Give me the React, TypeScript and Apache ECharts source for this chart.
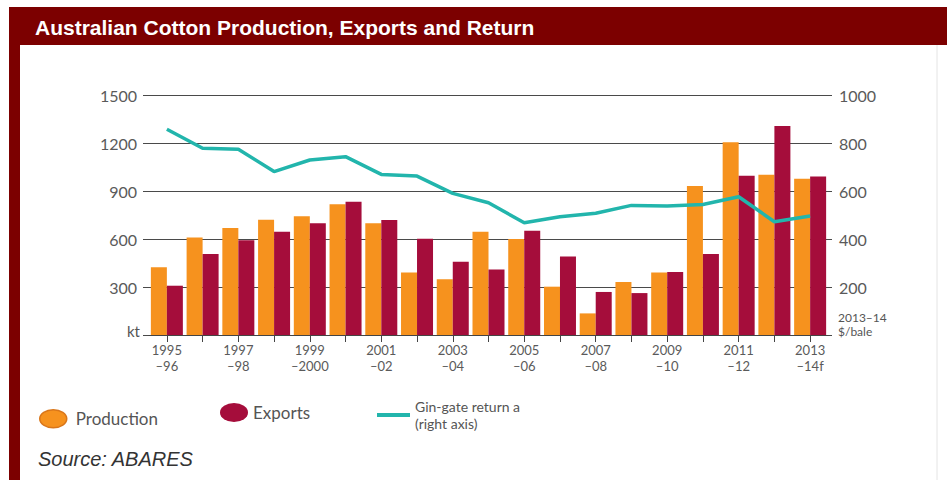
import React, { useEffect, useRef } from "react";
import * as echarts from "echarts";

const categories = [
  "1995–96", "1996–97", "1997–98", "1998–99", "1999–2000", "2000–01", "2001–02",
  "2002–03", "2003–04", "2004–05", "2005–06", "2006–07", "2007–08", "2008–09",
  "2009–10", "2010–11", "2011–12", "2012–13", "2013–14f",
];
const production = [423, 610, 669, 721, 742, 817, 698, 390, 348, 646, 600, 302, 135, 331, 390, 931, 1204, 1002, 977];
const exportsKt = [308, 506, 592, 646, 698, 833, 719, 602, 458, 410, 652, 490, 269, 262, 394, 506, 996, 1306, 990];
const ginGateReturn = [857, 778, 774, 681, 729, 743, 669, 662, 590, 551, 468, 493, 507, 540, 537, 544, 576, 472, 496];
const leftTicks = { min: 0, max: 1500, interval: 300 };
const rightTicks = { min: 0, max: 1000, interval: 200 };

const ORANGE = "#F6921E";
const RED = "#A50D3B";
const TEAL = "#22B5AC";
const BORDER = "#7C0000";
const FONT = "Lato";
const ELLIPSE = "path://M50,0 A50,50 0 1,1 50,100 A50,50 0 1,1 50,0 Z";

export default function App() {
  const ref = useRef<HTMLDivElement>(null);
  useEffect(() => {
    if (!ref.current) return;
    const chart = echarts.init(ref.current, undefined, { renderer: "svg" });
    const gridTop = 95;
    const gridBottom = 145;
    chart.setOption({
      animation: false,
      backgroundColor: "#ffffff",
      grid: [
        { left: 143, right: 115, top: gridTop, bottom: gridBottom },
        { left: 149, right: 119, top: gridTop, bottom: gridBottom },
      ],
      xAxis: [
        { gridIndex: 0, type: "value", show: false, min: 0, max: 1 },
        {
          gridIndex: 1,
          type: "category",
          data: categories,
          boundaryGap: true,
          axisLine: { show: true, lineStyle: { color: "#444", width: 1 } },
          axisTick: { show: true, alignWithLabel: true, interval: 0, length: 7, lineStyle: { color: "#444" } },
          axisLabel: {
            interval: 1,
            margin: 7,
            fontFamily: FONT,
            fontSize: 13,
            lineHeight: 15.8,
            color: "#5a5a5a",
            formatter: (v: string) => v.replace("–", "\n–"),
          },
        },
      ],
      yAxis: [
        {
          gridIndex: 0,
          type: "value",
          position: "left",
          ...leftTicks,
          axisLine: { show: false },
          axisTick: { show: false },
          splitLine: { show: true, lineStyle: { color: "#4a4a4a", width: 1 } },
          axisLabel: {
            margin: 6,
            fontFamily: FONT,
            fontSize: 16,
            color: "#5a5a5a",
            formatter: (v: number) => (v === 0 ? "" : String(v)),
          },
        },
        {
          gridIndex: 0,
          type: "value",
          position: "right",
          ...rightTicks,
          axisLine: { show: false },
          axisTick: { show: false },
          splitLine: { show: false },
          axisLabel: {
            margin: 7,
            fontFamily: FONT,
            fontSize: 16,
            color: "#5a5a5a",
            formatter: (v: number) => (v === 0 ? "" : String(v)),
          },
        },
        { gridIndex: 1, type: "value", ...leftTicks, show: false, splitLine: { show: false } },
        { gridIndex: 1, type: "value", ...rightTicks, show: false, splitLine: { show: false } },
      ],
      legend: [
        {
          data: [{ name: "Production", icon: ELLIPSE, itemStyle: { borderColor: "#D9761A", borderWidth: 1.5 } }],
          left: 39,
          top: 409,
          padding: 0,
          itemWidth: 27,
          itemHeight: 18,
          symbolKeepAspect: false,
          textStyle: { fontFamily: FONT, fontSize: 17, color: "#555", padding: [0, 0, 0, 4] },
        },
        {
          data: [{ name: "Exports", icon: ELLIPSE }],
          left: 220,
          top: 403,
          padding: 0,
          itemWidth: 28,
          itemHeight: 19,
          symbolKeepAspect: false,
          textStyle: { fontFamily: FONT, fontSize: 17, color: "#555" },
        },
        {
          data: [{ name: "Gin-gate return a", icon: "rect" }],
          left: 377,
          top: 398,
          padding: 0,
          itemWidth: 33,
          itemHeight: 4,
          symbolKeepAspect: false,
          formatter: () => "Gin-gate return a\n(right axis)",
          textStyle: { fontFamily: FONT, fontSize: 14, lineHeight: 17, color: "#555" },
        },
      ],
      series: [
        {
          name: "Production",
          type: "bar",
          xAxisIndex: 1,
          yAxisIndex: 2,
          data: production,
          barWidth: 16,
          barGap: "0%",
          itemStyle: { color: ORANGE },
        },
        {
          name: "Exports",
          type: "bar",
          xAxisIndex: 1,
          yAxisIndex: 2,
          data: exportsKt,
          barWidth: 16,
          barGap: "0%",
          itemStyle: { color: RED },
        },
        {
          name: "Gin-gate return a",
          type: "line",
          xAxisIndex: 1,
          yAxisIndex: 3,
          data: ginGateReturn,
          symbol: "none",
          lineStyle: { color: TEAL, width: 3.5 },
          itemStyle: { color: TEAL },
          z: 5,
        },
      ],
      graphic: [
        { type: "rect", shape: { x: 9, y: 7, width: 938, height: 38 }, style: { fill: BORDER }, silent: true },
        { type: "rect", shape: { x: 9, y: 7, width: 11, height: 473 }, style: { fill: BORDER }, silent: true },
        { type: "line", shape: { x1: 937, y1: 45, x2: 937, y2: 480 }, style: { stroke: "#e4e4e4", lineWidth: 1 }, silent: true },
        {
          type: "text",
          x: 35,
          y: 27,
          style: {
            text: "Australian Cotton Production, Exports and Return",
            fill: "#ffffff",
            font: "bold 21px 'Liberation Sans', Arial, sans-serif",
            verticalAlign: "middle",
          },
        },
        {
          type: "text",
          x: 140,
          y: 331,
          style: { text: "kt", fill: "#555", font: `15px '${FONT}'`, textAlign: "right", verticalAlign: "middle" },
        },
        {
          type: "text",
          x: 838,
          y: 339,
          style: {
            text: "2013–14\n$/bale",
            fill: "#555",
            font: `12px '${FONT}'`,
            lineHeight: 14.6,
            textAlign: "left",
            verticalAlign: "bottom",
          },
        },
        {
          type: "text",
          x: 38,
          y: 459,
          style: {
            text: "Source: ABARES",
            fill: "#333",
            font: "italic 20px 'Liberation Sans', Arial, sans-serif",
            verticalAlign: "middle",
          },
        },
      ],
    });
    return () => chart.dispose();
  }, []);
  return (
    <div
      ref={ref}
      style={{ position: "fixed", left: 0, top: 0, width: 947, height: 480 }}
    />
  );
}
